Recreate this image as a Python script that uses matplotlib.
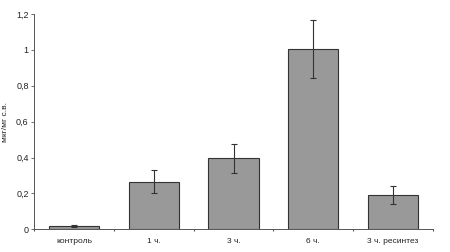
import matplotlib.pyplot as plt
import numpy as np

categories = ['контроль', '1 ч.', '3 ч.', '6 ч.', '3 ч. ресинтез']
values = [0.02, 0.265, 0.395, 1.005, 0.19]
errors = [0.005, 0.065, 0.08, 0.16, 0.05]
yticks = [0, 0.2, 0.4, 0.6, 0.8, 1, 1.2]
ytick_labels = ['0', '0,2', '0,4', '0,6', '0,8', '1', '1,2']

plt.rc('font', family='Liberation Sans')
fig = plt.figure(figsize=(4.5, 2.52), dpi=100)
ax = fig.add_axes([0.076, 0.09, 0.886, 0.855])

x = np.arange(len(categories))
ax.bar(x, values, width=0.63, color='#999999', edgecolor='#333333', linewidth=0.8,
       yerr=errors, capsize=2.5, error_kw={'ecolor': '#333333', 'elinewidth': 0.8, 'capthick': 0.8})

ax.set_xlim(-0.5, 4.5)
ax.set_ylim(0, 1.2)
ax.set_yticks(yticks)
ax.set_yticklabels(ytick_labels, fontsize=6.5, color='#222222')
ax.set_xticks(x)
ax.set_xticklabels(categories, fontsize=6, color='#222222')
ax.set_xticks(np.arange(-0.5, 5, 1), minor=True)
ax.tick_params(axis='x', which='major', length=0, pad=6)
ax.tick_params(axis='x', which='minor', length=1.5, width=0.8, direction='out', color='#555555')
ax.tick_params(axis='y', length=2, width=0.6, color='#555555', pad=2)
ax.set_ylabel('мкг/мг с.в.', fontsize=6, labelpad=5, color='#222222')

ax.spines['top'].set_visible(False)
ax.spines['right'].set_visible(False)
ax.spines['left'].set_color('#555555')
ax.spines['bottom'].set_color('#555555')
ax.spines['left'].set_linewidth(0.7)
ax.spines['bottom'].set_linewidth(0.7)

plt.savefig('out.png', dpi=100)
